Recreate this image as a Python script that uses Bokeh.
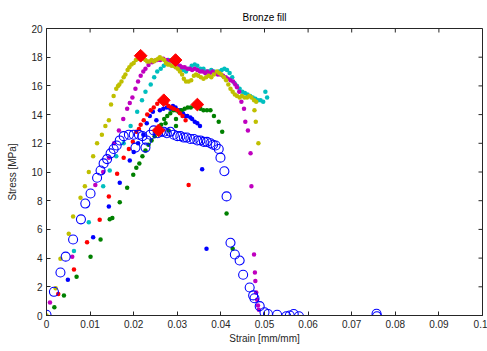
import math
from bokeh.plotting import figure
from bokeh.models import LinearAxis, FixedTicker, Range1d, Title
from bokeh.embed import file_html
from bokeh.resources import INLINE

# ---------------- data (strain [mm/mm], stress [MPa]) ----------------
olive_x = [0.0, 0.0021, 0.0032, 0.0051, 0.0061, 0.0078, 0.0088, 0.0097, 0.0107, 0.0116,
           0.0127, 0.0135, 0.0143, 0.0148, 0.0154, 0.0160, 0.0164, 0.0167, 0.0172, 0.0177,
           0.0181, 0.0186, 0.0190, 0.0195, 0.0200, 0.0205, 0.0210, 0.0216,
           0.0222, 0.0227, 0.0231, 0.0236, 0.0241, 0.0246, 0.0251, 0.0256, 0.0260, 0.0265,
           0.0270, 0.0274, 0.0278, 0.0282, 0.0287, 0.0292, 0.0296, 0.0301, 0.0306, 0.0311,
           0.0315, 0.0320, 0.0326, 0.0332, 0.0338, 0.0343, 0.0348, 0.0354, 0.0360, 0.0366,
           0.0372, 0.0378, 0.0384, 0.0391, 0.0396, 0.0401, 0.0407, 0.0412, 0.0417, 0.0422,
           0.0427, 0.0432, 0.0437, 0.0443, 0.0448, 0.0454, 0.0460, 0.0465, 0.0470, 0.0476,
           0.0481, 0.0477, 0.0480, 0.0486]
olive_y = [0.0, 1.9, 3.95, 5.7, 6.9, 8.2, 9.0, 10.0, 11.1, 12.0,
           12.6, 13.2, 13.6, 14.7, 15.3, 15.8, 16.0, 16.1, 16.3, 16.6,
           16.8, 17.1, 17.3, 17.5, 17.6, 17.8, 17.9, 18.1,
           17.9, 17.8, 17.7, 17.7, 17.8, 17.7, 17.8, 17.9, 18.0, 17.9,
           17.8, 17.6, 17.5, 17.5, 17.4, 17.4, 17.3, 17.2, 17.0, 16.8,
           16.5, 16.3, 16.3, 16.4, 16.7, 16.8, 16.7, 16.6, 16.5, 16.6,
           16.7, 16.6, 16.8, 17.0, 16.9, 16.8, 16.6, 16.4, 16.1, 15.8,
           15.6, 15.4, 15.3, 15.2, 15.3, 15.2, 15.2, 15.3, 15.2, 15.0,
           14.9, 14.3, 13.5, 12.0]

magenta_x = [0.0008, 0.0059, 0.0112, 0.0130, 0.0143, 0.0155, 0.0166, 0.0176, 0.0185, 0.0191,
             0.0197, 0.0204, 0.0210, 0.0216, 0.0222, 0.0227, 0.0234, 0.0242, 0.0248, 0.0254,
             0.0261, 0.0268, 0.0277, 0.0285, 0.0292, 0.0300, 0.0306, 0.0311, 0.0317, 0.0323,
             0.0329, 0.0334, 0.0340, 0.0346, 0.0352, 0.0358, 0.0364, 0.0369, 0.0375, 0.0381,
             0.0387, 0.0393, 0.0399, 0.0405, 0.0411, 0.0416, 0.0422, 0.0428, 0.0433, 0.0437,
             0.0442, 0.0447, 0.0453, 0.0456, 0.0462, 0.0468, 0.0470, 0.0476, 0.0478, 0.0479,
             0.0481, 0.0483, 0.0485, 0.0487]
magenta_y = [0.9, 4.1, 9.1, 10.0, 11.0, 12.0, 12.9, 13.7, 14.4, 14.8,
             15.2, 15.8, 16.3, 16.7, 17.0, 17.2, 17.45, 17.65, 17.75, 17.8,
             17.8, 17.9, 17.8, 17.7, 17.6, 17.5, 17.4, 17.3, 17.3, 17.2,
             17.2, 17.1, 17.2, 17.1, 17.0, 17.0, 16.9, 17.0, 16.9, 17.0,
             16.9, 16.8, 16.8, 16.7, 16.6, 16.5, 16.4, 16.3, 16.1, 15.9,
             15.6, 14.9, 14.4, 13.5, 12.9, 11.3, 9.0, 4.25, 3.0, 2.4,
             1.6, 1.1, 0.7, 0.4]

cyan_x = [0.0063, 0.0097, 0.0130, 0.0145, 0.0160, 0.0177, 0.0193, 0.0208, 0.0219, 0.0227,
          0.0239, 0.0247, 0.0254, 0.0262, 0.0269, 0.0275, 0.0280, 0.0287, 0.0293, 0.0300,
          0.0307, 0.0314, 0.0320, 0.0327, 0.0333, 0.0340, 0.0346, 0.0353, 0.0360, 0.0366,
          0.0372, 0.0378, 0.0384, 0.0390, 0.0396, 0.0402, 0.0408, 0.0414, 0.0420, 0.0426,
          0.0431, 0.0437, 0.0443, 0.0449, 0.0455, 0.0461, 0.0467, 0.0473, 0.0479, 0.0485,
          0.0491, 0.0497, 0.0502, 0.0506]
cyan_y = [4.5, 6.5, 9.0, 10.1, 11.1, 12.0, 13.2, 14.2, 15.0, 15.6,
          16.1, 16.6, 17.0, 17.2, 17.4, 17.6, 17.8, 17.8, 17.6, 17.4,
          17.2, 17.1, 17.0, 17.2, 17.4, 17.5, 17.4, 17.2, 17.2, 17.0,
          17.0, 17.1, 17.0, 16.9, 17.0, 17.1, 17.2, 17.1, 16.9, 16.6,
          16.2, 16.0, 15.8, 15.6, 15.5, 15.4, 15.3, 15.2, 15.1, 15.0,
          15.0, 14.9, 15.6, 15.2]

red_x = [0.0027, 0.0063, 0.0093, 0.0122, 0.0143, 0.0162, 0.0177, 0.0189, 0.0198, 0.0206,
         0.0212, 0.0216, 0.0223, 0.0231, 0.0239, 0.0246, 0.0254, 0.0261, 0.0269, 0.0275,
         0.0280, 0.0286, 0.0292, 0.0300, 0.0306, 0.0312, 0.0319, 0.0326]
red_y = [1.5, 3.2, 5.1, 6.67, 8.3, 9.87, 11.0, 11.6, 12.1, 12.8,
         13.0, 13.3, 13.6, 14.0, 14.3, 14.5, 14.75, 14.95, 15.0, 14.8,
         14.6, 14.5, 14.4, 14.3, 14.1, 13.9, 13.6, 9.1]

green_x = [0.0018, 0.0040, 0.0069, 0.0101, 0.0124, 0.0145, 0.0151, 0.0168, 0.0185, 0.0199,
           0.0206, 0.0213, 0.0220, 0.0227, 0.0234, 0.0241, 0.0248, 0.0256, 0.0263, 0.0270,
           0.0273, 0.0277, 0.0280, 0.0284, 0.0291, 0.0297, 0.0297, 0.0297, 0.0303, 0.0310,
           0.0317, 0.0324, 0.0331, 0.0338, 0.0346, 0.0353, 0.0360, 0.0368, 0.0376, 0.0384,
           0.0395, 0.0403, 0.0413, 0.0427]
green_y = [0.58, 1.4, 2.7, 4.1, 5.3, 6.7, 6.8, 7.9, 8.9, 9.8,
           10.3, 10.6, 11.1, 11.5, 11.9, 12.2, 12.5, 12.9, 13.3, 13.7,
           13.4, 13.9, 12.9, 14.1, 14.3, 14.3, 13.7, 13.2, 14.2, 14.3,
           14.4, 14.5, 14.5, 14.6, 14.7, 14.4, 14.3, 14.3, 14.3, 13.9,
           13.5, 12.8, 7.1, 4.65]

blue_x = [0.0049, 0.0107, 0.0143, 0.0168, 0.0191, 0.0200, 0.0210, 0.0222, 0.0230, 0.0237,
          0.0244, 0.0252, 0.0260, 0.0268, 0.0276, 0.0284, 0.0290, 0.0296, 0.0302, 0.0307,
          0.0313, 0.0318, 0.0323, 0.0330, 0.0334, 0.0340, 0.0346, 0.0352, 0.0357, 0.0367]
blue_y = [2.5, 5.46, 7.6, 9.25, 10.8, 11.4, 12.0, 12.6, 13.4, 13.9,
          14.2, 13.6, 14.3, 14.4, 14.5, 14.4, 14.6, 14.5, 14.3, 14.3,
          14.1, 13.9, 13.9, 13.8, 13.7, 13.5, 13.4, 13.2, 10.2, 4.65]

circ_x = [0.0, 0.0017, 0.0032, 0.0044, 0.0061, 0.0079, 0.0089, 0.0101, 0.0116, 0.0124,
          0.0131, 0.0139, 0.0147, 0.0154, 0.0161, 0.0168, 0.0177, 0.0189, 0.0200, 0.0204,
          0.0212, 0.0220, 0.0227, 0.0230, 0.0238, 0.0246, 0.0255, 0.0262, 0.0269, 0.0276,
          0.0284, 0.0292, 0.0300, 0.0307, 0.0315, 0.0322, 0.0330, 0.0338, 0.0346, 0.0353,
          0.0361, 0.0368, 0.0376, 0.0382, 0.0388, 0.0395, 0.0399, 0.0408, 0.0413, 0.0422,
          0.0432, 0.0443, 0.0451, 0.0466, 0.0474, 0.0477, 0.0489, 0.0500, 0.0508, 0.0529,
          0.0550, 0.0558, 0.0567, 0.0579, 0.0757, 0.0758]
circ_y = [0.05, 1.65, 3.0, 4.1, 5.3, 6.7, 7.8, 8.5, 9.6, 10.1,
          10.6, 10.9, 11.3, 11.6, 11.85, 12.2, 12.5, 12.6, 12.6, 11.7,
          12.6, 12.5, 11.7, 12.2, 12.6, 12.9, 12.7, 12.8, 12.8, 12.7,
          12.8, 12.6, 12.5, 12.5, 12.4, 12.4, 12.3, 12.3, 12.2, 12.2,
          12.1, 12.1, 12.0, 11.9, 11.85, 11.6, 11.0, 10.05, 8.3, 5.07,
          4.25, 3.83, 2.84, 1.95, 1.4, 1.2, 0.65, 0.23, 0.1, 0.05,
          -0.05, 0.0, 0.1, -0.05, 0.12, -0.05]

peak_x = [0.0216, 0.0296, 0.0269, 0.0346, 0.0257]
peak_y = [18.1, 17.8, 15.0, 14.7, 12.9]

x_ticks = [0.0, 0.01, 0.02, 0.03, 0.04, 0.05, 0.06, 0.07, 0.08, 0.09, 0.1]
x_tick_labels = ["0", "0.01", "0.02", "0.03", "0.04", "0.05", "0.06", "0.07", "0.08", "0.09", "0.1"]
y_ticks = [0, 2, 4, 6, 8, 10, 12, 14, 16, 18, 20]
y_tick_labels = ["0", "2", "4", "6", "8", "10", "12", "14", "16", "18", "20"]

title_text = "Bronze fill"
x_label = "Strain [mm/mm]"
y_label = "Stress [MPa]"

# ---------------- figure ----------------
FONT = "Liberation Sans"
TXT = "#262626"

p = figure(width=487, height=351, output_backend="svg", toolbar_location=None,
           x_range=Range1d(x_ticks[0], x_ticks[-1]), y_range=Range1d(y_ticks[0], y_ticks[-1]),
           min_border_left=46, min_border_right=5, min_border_top=28, min_border_bottom=36,
           x_axis_type=None, y_axis_type=None)
p.grid.visible = False
p.outline_line_color = "#262626"
p.outline_line_width = 1
p.background_fill_color = "white"
p.border_fill_color = "white"

t = Title(text=title_text, align="center", text_font=FONT, text_font_size="10px",
          text_font_style="normal", text_color="#000000", standoff=11)
p.add_layout(t, "above")


def style_axis(ax):
    ax.axis_line_color = "#262626"
    ax.major_tick_line_color = "#262626"
    ax.major_tick_in = 4
    ax.major_tick_out = 0
    ax.minor_tick_line_color = None
    ax.major_label_text_font = FONT
    ax.major_label_text_font_size = "10px"
    ax.major_label_text_color = TXT
    ax.axis_label_text_font = FONT
    ax.axis_label_text_font_size = "10px"
    ax.axis_label_text_font_style = "normal"
    ax.axis_label_text_color = TXT


xb = LinearAxis(ticker=FixedTicker(ticks=x_ticks),
                major_label_overrides=dict(zip(x_ticks, x_tick_labels)),
                axis_label=x_label)
style_axis(xb)
xb.major_label_standoff = 4
xb.axis_label_standoff = 2
p.add_layout(xb, "below")

yl = LinearAxis(ticker=FixedTicker(ticks=y_ticks),
                major_label_overrides=dict(zip(y_ticks, y_tick_labels)),
                axis_label=y_label)
style_axis(yl)
yl.major_label_standoff = 4
yl.axis_label_standoff = 10
p.add_layout(yl, "left")

# inside tick marks on the top and right edges of the box
p.ray(x=x_ticks, y=[y_ticks[-1]] * len(x_ticks), length=4, length_units="screen",
      angle=-math.pi / 2, line_color="#262626", line_width=1)
p.ray(x=[x_ticks[-1]] * len(y_ticks), y=y_ticks, length=4, length_units="screen",
      angle=math.pi, line_color="#262626", line_width=1)

DOT = 4.5
p.scatter(blue_x, blue_y, size=DOT, color="#0000ff", line_width=0)
p.scatter(green_x, green_y, size=DOT, color="#008000", line_width=0)
p.scatter(red_x, red_y, size=DOT, color="#ff0000", line_width=0)
p.scatter(cyan_x, cyan_y, size=DOT, color="#00bfbf", line_width=0)
p.scatter(magenta_x, magenta_y, size=DOT, color="#bf00bf", line_width=0)
p.scatter(olive_x, olive_y, size=DOT, color="#bfbf00", line_width=0)
p.scatter(circ_x, circ_y, size=9, marker="circle", fill_color=None,
          line_color="#0000ff", line_width=1.1)
p.scatter(peak_x, peak_y, size=9, marker="square", angle=math.pi / 4,
          fill_color="#ff0000", line_color="#ff0000", line_width=1)

open("out.html", "w").write(file_html(p, INLINE))
